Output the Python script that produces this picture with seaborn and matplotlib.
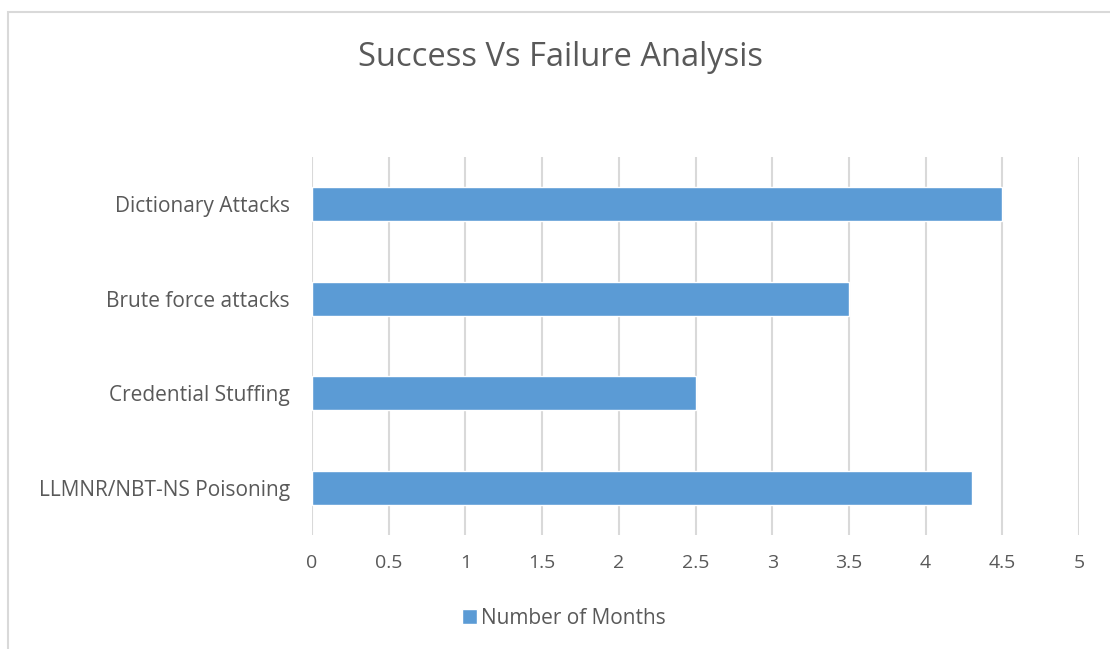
import matplotlib
matplotlib.use("Agg")
import matplotlib.pyplot as plt
from matplotlib.patches import Rectangle
import pandas as pd
import seaborn as sns

categories = ["Dictionary Attacks", "Brute force attacks", "Credential Stuffing", "LLMNR/NBT-NS Poisoning"]
months = [4.5, 3.5, 2.5, 4.3]
x_ticks = [0, 0.5, 1, 1.5, 2, 2.5, 3, 3.5, 4, 4.5, 5]
x_tick_labels = ["0", "0.5", "1", "1.5", "2", "2.5", "3", "3.5", "4", "4.5", "5"]
series_name = "Number of Months"

sns.set_style("white")
plt.rcParams["font.family"] = ["Open Sans", "DejaVu Sans"]

df = pd.DataFrame({"attack": categories, "months": months})

fig = plt.figure(figsize=(11.1, 6.49), dpi=100)
ax = fig.add_axes([0.2811, 0.1757, 0.6910, 0.5824])

sns.barplot(data=df, x="months", y="attack", orient="h", color="#5b9bd5",
            width=0.36, saturation=1, label=series_name, ax=ax)

ax.set_xlim(0, 5)
ax.set_xticks(x_ticks)
ax.set_xticklabels(x_tick_labels, fontsize=14, color="#595959")
ax.tick_params(axis="y", labelsize=15, labelcolor="#595959", length=0, pad=16)
ax.tick_params(axis="x", length=0, pad=14)
ax.set_xlabel("")
ax.set_ylabel("")
ax.grid(True, axis="x", color="#d9d9d9", linewidth=1.5)
ax.set_axisbelow(True)
for s in ax.spines.values():
    s.set_visible(False)

handles, labels = ax.get_legend_handles_labels()
if ax.get_legend() is not None:
    ax.get_legend().remove()

fig.text(0.505, 1 - 57 / 649, "Success Vs Failure Analysis", ha="center", va="center",
         fontsize=23.5, color="#595959")

fig.legend(handles, labels, loc="center", bbox_to_anchor=(0.508, 1 - 618 / 649), frameon=False,
           fontsize=15, labelcolor="#595959", handlelength=0.7, handleheight=0.7,
           handletextpad=0.2)

# chart border (cropped on right and bottom)
fig.patches.append(Rectangle((8 / 1110, -0.05), 1.1, 1 - 12 / 649 + 0.05,
                             transform=fig.transFigure, fill=False,
                             edgecolor="#d9d9d9", linewidth=1.5))

fig.savefig("out.png", dpi=100)
